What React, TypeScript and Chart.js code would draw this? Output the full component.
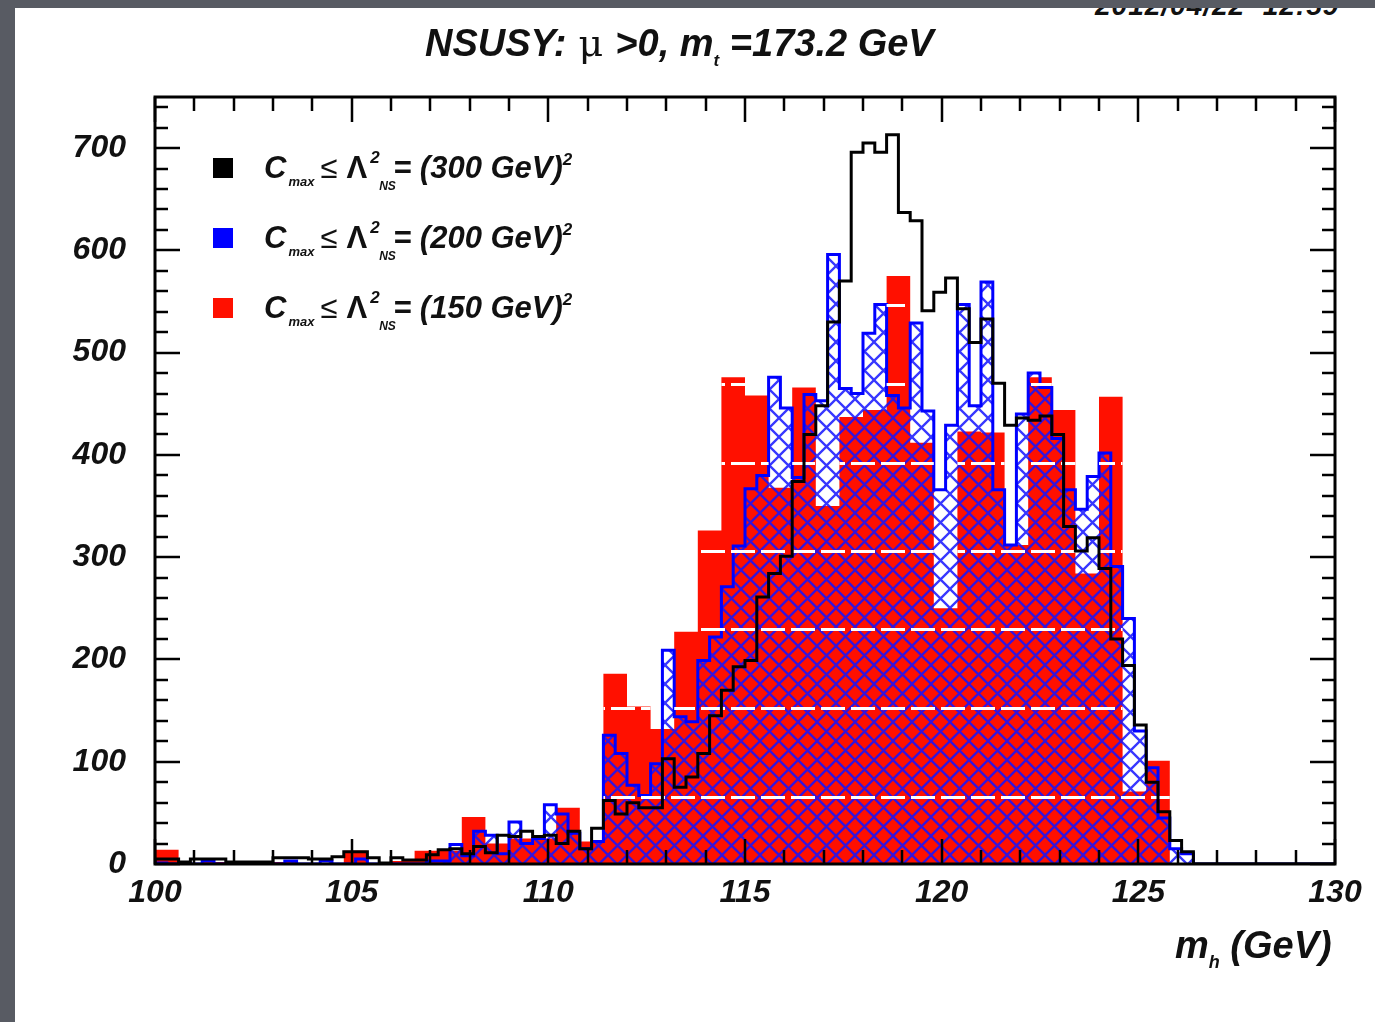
import React, { useEffect, useRef } from 'react';
import { Chart, registerables } from 'chart.js';

Chart.register(...registerables);

// ---------------- data ----------------
const X_MIN = 100;
const X_MAX = 130;
const Y_MIN = 0;
const Y_MAX = 750;
const FINE_BIN_WIDTH = 0.3; // GeV (black and blue histograms)
const COARSE_BIN_WIDTH = 0.6; // GeV (red histogram)

// C_max <= (300 GeV)^2, 0.3 GeV bins from 100 GeV
const blackCounts = [
  5, 5, 2, 5, 5, 5, 2, 2, 2, 2,
  6, 6, 6, 5, 5, 7, 12, 12, 6, 1,
  6, 4, 4, 9, 14, 15, 10, 17, 11, 28,
  27, 32, 27, 28, 20, 32, 15, 35, 62, 49,
  60, 55, 55, 103, 75, 85, 108, 145, 170, 193,
  199, 261, 284, 301, 374, 420, 448, 530, 570, 696,
  705, 696, 713, 637, 629, 541, 559, 573, 543, 510,
  533, 470, 429, 436, 434, 438, 420, 330, 306, 319,
  289, 220, 194, 136, 80, 51, 23, 12, 0, 0,
  0, 0, 0, 0, 0, 0, 0, 0, 0, 0,
];

// C_max <= (200 GeV)^2, 0.3 GeV bins from 100 GeV
const blueCounts = [
  1, 0, 0, 0, 3, 0, 0, 0, 0, 0,
  0, 3, 0, 0, 3, 0, 0, 5, 0, 0,
  0, 0, 0, 3, 3, 19, 8, 32, 28, 10,
  41, 20, 25, 58, 49, 30, 15, 22, 126, 108,
  77, 67, 98, 209, 144, 139, 199, 222, 271, 311,
  367, 380, 476, 446, 378, 459, 453, 596, 465, 460,
  519, 547, 458, 446, 529, 443, 366, 429, 547, 448,
  569, 366, 312, 440, 480, 466, 416, 366, 347, 379,
  402, 291, 240, 130, 94, 45, 15, 10, 0, 0,
  0, 0, 0, 0, 0, 0, 0, 0, 0, 0,
];

// C_max <= (150 GeV)^2, 0.6 GeV bins from 100 GeV
const redCounts = [
  14, 0, 2, 0, 0, 2, 0, 0, 13, 0,
  3, 13, 13, 46, 20, 25, 25, 55, 22, 186,
  154, 132, 227, 326, 476, 458, 368, 466, 350, 437,
  444, 575, 412, 250, 423, 422, 312, 476, 444, 284,
  457, 71, 101, 0, 0, 0, 0, 0, 0, 0,
];

const xTickValues = [100, 105, 110, 115, 120, 125, 130];
const yTickValues = [0, 100, 200, 300, 400, 500, 600, 700];
const X_MINOR_STEP = 1;
const Y_MINOR_STEP = 20;
// white raster stripes visible across the filled histograms
const stripeLevels = [66, 153, 230, 306, 392, 469, 547];

const seriesScales = ['(300 GeV)', '(200 GeV)', '(150 GeV)'];
const seriesColors = ['#000000', '#0000ff', '#ff1000'];

// ---------------- layout ----------------
const W = 1375;
const H = 1022;
const PLOT = { left: 155, top: 97, right: 1335, bottom: 864 };
const FONT = '"Liberation Sans", Arial, sans-serif';

type Pt = { x: number; y: number };

function stepPoints(counts: number[], width: number): Pt[] {
  const pts: Pt[] = [{ x: X_MIN, y: 0 }];
  counts.forEach((c, i) => pts.push({ x: X_MIN + i * width, y: c }));
  pts.push({ x: X_MIN + counts.length * width, y: 0 });
  return pts;
}

function addStepPath(ctx: CanvasRenderingContext2D, pts: Pt[], xs: any, ys: any) {
  ctx.moveTo(xs.getPixelForValue(pts[0].x), ys.getPixelForValue(0));
  for (let i = 1; i < pts.length; i++) {
    const prev = pts[i - 1];
    const cur = pts[i];
    ctx.lineTo(xs.getPixelForValue(cur.x), ys.getPixelForValue(prev.y));
    ctx.lineTo(xs.getPixelForValue(cur.x), ys.getPixelForValue(cur.y));
  }
  ctx.closePath();
}

function makeHatch(color: string, period: number, lw: number): CanvasPattern | string {
  const c = document.createElement('canvas');
  c.width = period;
  c.height = period;
  const g = c.getContext('2d');
  if (!g) return color;
  g.strokeStyle = color;
  g.lineWidth = lw;
  g.beginPath();
  g.moveTo(-2, -2);
  g.lineTo(period + 2, period + 2);
  g.moveTo(period + 2, -2);
  g.lineTo(-2, period + 2);
  g.stroke();
  const p = g.createPattern(c, 'repeat');
  return p || color;
}

const blackPts = stepPoints(blackCounts, FINE_BIN_WIDTH);
const bluePts = stepPoints(blueCounts, FINE_BIN_WIDTH);
const redPts = stepPoints(redCounts, COARSE_BIN_WIDTH);

const stripePlugin = {
  id: 'stripes',
  afterDatasetDraw(chart: any, args: any) {
    if (args.index !== 1) return;
    const { ctx, chartArea: a, scales } = chart;
    const xs = scales.x;
    const ys = scales.y;
    ctx.save();
    ctx.beginPath();
    addStepPath(ctx, redPts, xs, ys);
    ctx.clip('nonzero');
    ctx.strokeStyle = '#ffffff';
    ctx.lineWidth = 3;
    ctx.setLineDash([24, 6]);
    ctx.beginPath();
    stripeLevels.forEach((lv) => {
      const py = Math.round(ys.getPixelForValue(lv)) + 0.5;
      ctx.moveTo(a.left + 6, py);
      ctx.lineTo(a.right, py);
    });
    ctx.stroke();
    ctx.restore();
  },
};

const framePlugin = {
  id: 'rootFrame',
  afterDatasetsDraw(chart: any) {
    const { ctx, chartArea: a, scales } = chart;
    const xs = scales.x;
    const ys = scales.y;
    ctx.save();
    ctx.strokeStyle = '#000';
    ctx.lineWidth = 2.5;
    ctx.beginPath();
    for (let v = X_MIN; v <= X_MAX + 1e-9; v += X_MINOR_STEP) {
      const px = Math.round(xs.getPixelForValue(v));
      const len = xTickValues.includes(v) ? 25 : 14;
      ctx.moveTo(px, a.bottom);
      ctx.lineTo(px, a.bottom - len);
      ctx.moveTo(px, a.top);
      ctx.lineTo(px, a.top + len);
    }
    for (let v = Y_MIN; v <= Y_MAX + 1e-9; v += Y_MINOR_STEP) {
      const py = Math.round(ys.getPixelForValue(v));
      const len = yTickValues.includes(v) ? 25 : 13;
      ctx.moveTo(a.left, py);
      ctx.lineTo(a.left + len, py);
      ctx.moveTo(a.right, py);
      ctx.lineTo(a.right - len, py);
    }
    ctx.stroke();
    ctx.lineWidth = 3;
    ctx.strokeRect(a.left, a.top, a.right - a.left, a.bottom - a.top);
    ctx.restore();
  },
};

const tickFont = { family: FONT, size: 32, weight: 'bold' as const, style: 'italic' as const };

function Scripted({ scale }: { scale: string }) {
  const small: React.CSSProperties = { position: 'absolute', lineHeight: 1 };
  return (
    <span style={{ whiteSpace: 'nowrap' }}>
      C
      <span style={{ fontSize: 13, position: 'relative', top: 8, marginLeft: 2 }}>max</span>
      <span style={{ fontWeight: 'normal', marginLeft: 6 }}>≤</span>
      <span style={{ fontStyle: 'normal', marginLeft: 9 }}>Λ</span>
      <span style={{ display: 'inline-block', position: 'relative', width: 26, height: 10 }}>
        <span style={{ ...small, fontSize: 17, top: -19, left: 3 }}>2</span>
        <span style={{ ...small, fontSize: 12, top: 12, left: 12 }}>NS</span>
      </span>
      = {scale}
      <span style={{ fontSize: 17, position: 'relative', top: -13 }}>2</span>
    </span>
  );
}

export default function App() {
  const ref = useRef<HTMLCanvasElement | null>(null);

  useEffect(() => {
    if (!ref.current) return;
    const hatch = makeHatch('rgba(20,20,255,0.85)', 19, 2.3);
    const chart = new Chart(ref.current, {
      type: 'line',
      data: {
        datasets: [
          {
            label: seriesScales[0],
            data: blackPts,
            stepped: 'before',
            borderColor: seriesColors[0],
            borderWidth: 3,
            fill: false,
            pointRadius: 0,
          },
          {
            label: seriesScales[1],
            data: bluePts,
            stepped: 'before',
            borderColor: seriesColors[1],
            borderWidth: 3,
            backgroundColor: hatch as any,
            fill: 'origin',
            pointRadius: 0,
          },
          {
            label: seriesScales[2],
            data: redPts,
            stepped: 'before',
            borderColor: seriesColors[2],
            borderWidth: 0,
            backgroundColor: seriesColors[2],
            fill: 'origin',
            pointRadius: 0,
          },
        ],
      },
      options: {
        animation: false,
        responsive: false,
        events: [],
        layout: { padding: { left: 0, top: PLOT.top, right: W - PLOT.right, bottom: 0 } },
        plugins: { legend: { display: false }, tooltip: { enabled: false }, title: { display: false } },
        elements: { line: { tension: 0, borderJoinStyle: 'miter', borderCapStyle: 'butt' } },
        scales: {
          x: {
            type: 'linear',
            min: X_MIN,
            max: X_MAX,
            grid: { display: false },
            border: { display: false },
            afterBuildTicks: (s: any) => {
              s.ticks = xTickValues.map((v) => ({ value: v }));
            },
            afterFit: (s: any) => {
              s.height = H - PLOT.bottom;
            },
            ticks: {
              font: tickFont,
              color: '#111',
              padding: 2,
              maxRotation: 0,
              autoSkip: false,
              callback: (v: any) => String(v),
            },
          },
          y: {
            type: 'linear',
            min: Y_MIN,
            max: Y_MAX,
            grid: { display: false },
            border: { display: false },
            afterBuildTicks: (s: any) => {
              s.ticks = yTickValues.map((v) => ({ value: v }));
            },
            afterFit: (s: any) => {
              s.width = PLOT.left;
            },
            ticks: {
              font: tickFont,
              color: '#111',
              padding: 21,
              callback: (v: any) => String(v),
            },
          },
        },
      },
      plugins: [stripePlugin, framePlugin],
    });
    return () => chart.destroy();
  }, []);

  const text: React.CSSProperties = {
    position: 'absolute',
    fontFamily: FONT,
    fontWeight: 'bold',
    fontStyle: 'italic',
    color: '#111',
    whiteSpace: 'nowrap',
    lineHeight: 1,
  };

  return (
    <div style={{ position: 'absolute', left: 0, top: 0, width: W, height: H, overflow: 'hidden', background: '#585b63' }}>
      <div style={{ position: 'absolute', left: 15, top: 8, width: W - 15, height: H - 8, background: '#ffffff', overflow: 'hidden' }}>
        <div style={{ ...text, fontSize: 28, left: 1080, top: -16, letterSpacing: 1 }}>2012/04/22&nbsp;&nbsp;12:59</div>
      </div>
      <canvas ref={ref} width={W} height={H} style={{ position: 'absolute', left: 0, top: 0 }} />
      <div style={{ ...text, fontSize: 38, left: 425, top: 24 }}>
        NSUSY:<span style={{ fontStyle: 'normal', fontWeight: 'normal', fontFamily: '"DejaVu Serif", serif' }}> μ </span>
        &gt;0, m<span style={{ fontSize: 17, position: 'relative', top: 10 }}>t</span> =173.2 GeV
      </div>
      {seriesScales.map((s, i) => (
        <React.Fragment key={s}>
          <div style={{ position: 'absolute', left: 213, top: 158 + i * 70, width: 20, height: 20, background: seriesColors[i] }} />
          <div style={{ ...text, fontSize: 31, left: 264, top: 152 + i * 70 }}>
            <Scripted scale={s} />
          </div>
        </React.Fragment>
      ))}
      <div style={{ ...text, fontSize: 38, left: 1175, top: 926 }}>
        m<span style={{ fontSize: 18, position: 'relative', top: 10 }}>h</span> (GeV)
      </div>
    </div>
  );
}
